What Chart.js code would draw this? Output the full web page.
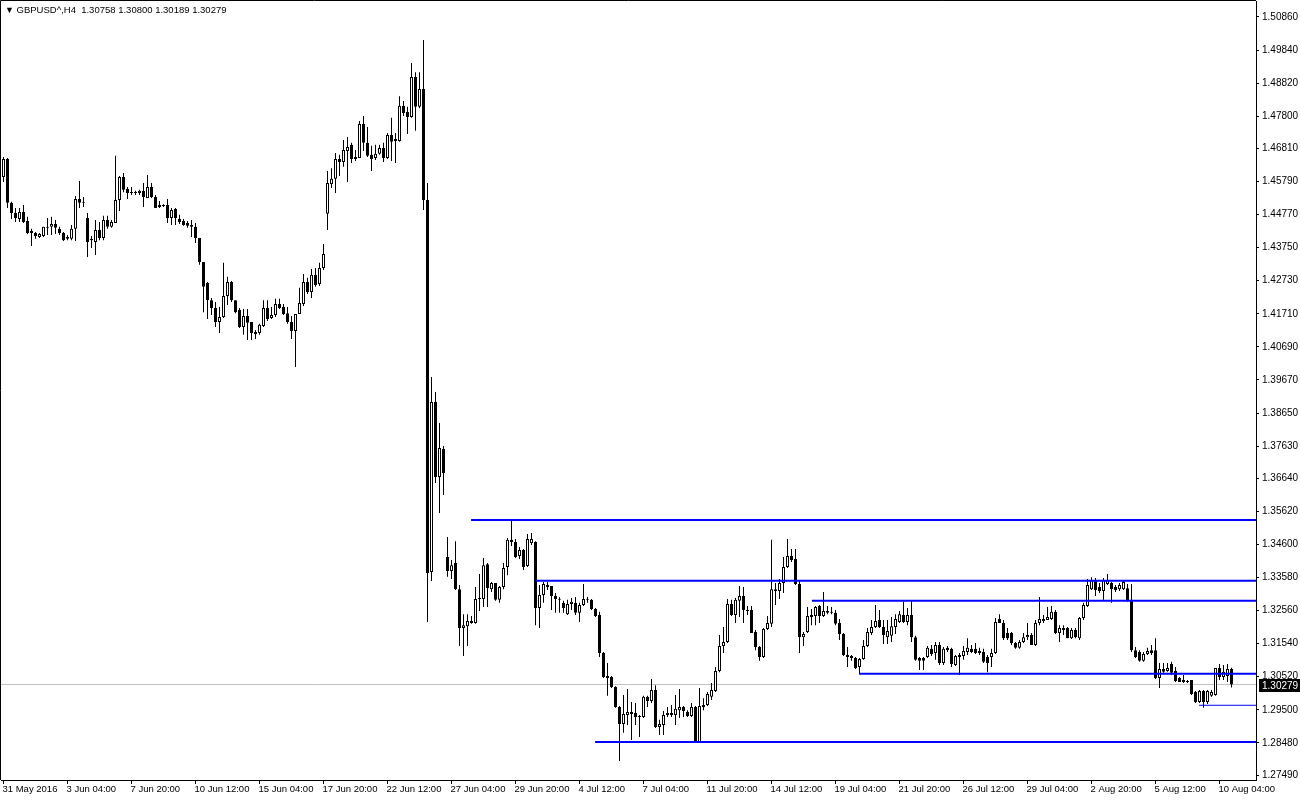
<!DOCTYPE html>
<html>
<head>
<meta charset="utf-8">
<title>GBPUSD^,H4</title>
<script src="https://cdn.jsdelivr.net/npm/chart.js@4.4.1/dist/chart.umd.min.js"></script>
<style>
  html, body { margin: 0; padding: 0; background: #fff; }
  #wrap { position: relative; width: 1300px; height: 800px; }
  #chart { display: block; }
  #header { position: absolute; left: 5px; top: 4px; font: 9.5px "Liberation Sans", Arial, sans-serif; color: #000; white-space: pre; }
  #header .tri { font-size: 9px; }
</style>
</head>
<body>
<div id="wrap">
  <canvas id="chart" width="1300" height="800"></canvas>
  <div id="header"></div>
</div>
<script>
// GBPUSD H4 bars, 31 May 2016 12:00 .. 10 Aug 2016 16:00 (one entry per bar)
const opens = [
  1.4593, 1.4648, 1.4513, 1.4482, 1.4463, 1.4485, 1.4457, 1.4426, 1.4420, 1.4408,
  1.4411, 1.4436, 1.4439, 1.4448, 1.4433, 1.4420, 1.4402, 1.4402, 1.4433, 1.4525,
  1.4516, 1.4466, 1.4398, 1.4392, 1.4429, 1.4405, 1.4460, 1.4439, 1.4451, 1.4522,
  1.4593, 1.4556, 1.4546, 1.4543, 1.4543, 1.4550, 1.4528, 1.4562, 1.4531, 1.4506,
  1.4503, 1.4506, 1.4466, 1.4494, 1.4463, 1.4457, 1.4451, 1.4445, 1.4439, 1.4405,
  1.4331, 1.4266, 1.4213, 1.4189, 1.4146, 1.4161, 1.4226, 1.4269, 1.4213, 1.4183,
  1.4130, 1.4164, 1.4146, 1.4115, 1.4112, 1.4133, 1.4189, 1.4158, 1.4167, 1.4201,
  1.4192, 1.4173, 1.4146, 1.4118, 1.4170, 1.4201, 1.4269, 1.4238, 1.4291, 1.4263,
  1.4312, 1.4479, 1.4571, 1.4587, 1.4648, 1.4639, 1.4673, 1.4692, 1.4648, 1.4651,
  1.4756, 1.4698, 1.4661, 1.4651, 1.4664, 1.4682, 1.4651, 1.4722, 1.4704, 1.4704,
  1.4812, 1.4793, 1.4778, 1.4901, 1.4809, 1.4864, 1.4522, 1.3375, 1.3899, 1.3668,
  1.3754, 1.3421, 1.3378, 1.3403, 1.3322, 1.3202, 1.3208, 1.3218, 1.3218, 1.3292,
  1.3292, 1.3399, 1.3322, 1.3341, 1.3289, 1.3329, 1.3390, 1.3474, 1.3467, 1.3424,
  1.3443, 1.3393, 1.3464, 1.3467, 1.3264, 1.3304, 1.3335, 1.3332, 1.3301, 1.3289,
  1.3280, 1.3245, 1.3276, 1.3280, 1.3249, 1.3273, 1.3289, 1.3289, 1.3261, 1.3242,
  1.3125, 1.3054, 1.3051, 1.3020, 1.2959, 1.2906, 1.2934, 1.2943, 1.2940, 1.2931,
  1.2928, 1.2990, 1.2977, 1.3011, 1.2897, 1.2903, 1.2934, 1.2940, 1.2934, 1.2949,
  1.2959, 1.2943, 1.2931, 1.2959, 1.2848, 1.2965, 1.2965, 1.2990, 1.3008, 1.3070,
  1.3147, 1.3159, 1.3276, 1.3242, 1.3286, 1.3301, 1.3258, 1.3258, 1.3190, 1.3144,
  1.3113, 1.3199, 1.3215, 1.3322, 1.3316, 1.3341, 1.3390, 1.3424, 1.3415, 1.3338,
  1.3174, 1.3190, 1.3242, 1.3239, 1.3270, 1.3239, 1.3255, 1.3252, 1.3249, 1.3218,
  1.3184, 1.3119, 1.3116, 1.3110, 1.3082, 1.3107, 1.3147, 1.3187, 1.3205, 1.3227,
  1.3205, 1.3174, 1.3178, 1.3205, 1.3221, 1.3242, 1.3221, 1.3242, 1.3174, 1.3110,
  1.3110, 1.3113, 1.3138, 1.3125, 1.3150, 1.3094, 1.3141, 1.3138, 1.3088, 1.3113,
  1.3116, 1.3128, 1.3138, 1.3138, 1.3131, 1.3128, 1.3113, 1.3113, 1.3125, 1.3230,
  1.3218, 1.3187, 1.3187, 1.3156, 1.3141, 1.3159, 1.3174, 1.3181, 1.3150, 1.3218,
  1.3230, 1.3227, 1.3230, 1.3252, 1.3187, 1.3202, 1.3202, 1.3171, 1.3196, 1.3171,
  1.3233, 1.3270, 1.3322, 1.3350, 1.3329, 1.3316, 1.3338, 1.3341, 1.3329, 1.3322,
  1.3322, 1.3325, 1.3289, 1.3134, 1.3128, 1.3101, 1.3122, 1.3134, 1.3134, 1.3048,
  1.3076, 1.3070, 1.3091, 1.3070, 1.3048, 1.3042, 1.3039, 1.3042, 1.3005, 1.2974,
  1.3008, 1.2974, 1.2993, 1.2996, 1.3079, 1.3051, 1.3054, 1.30758
];
const highs = [
  1.4654, 1.4651, 1.4516, 1.4497, 1.4497, 1.4506, 1.4470, 1.4433, 1.4423, 1.4420,
  1.4439, 1.4466, 1.4470, 1.4460, 1.4439, 1.4423, 1.4414, 1.4445, 1.4534, 1.4580,
  1.4531, 1.4482, 1.4411, 1.4460, 1.4454, 1.4473, 1.4473, 1.4460, 1.4658, 1.4596,
  1.4605, 1.4562, 1.4562, 1.4550, 1.4553, 1.4574, 1.4599, 1.4574, 1.4537, 1.4519,
  1.4509, 1.4525, 1.4497, 1.4497, 1.4476, 1.4463, 1.4457, 1.4460, 1.4451, 1.4405,
  1.4331, 1.4269, 1.4220, 1.4207, 1.4192, 1.4328, 1.4285, 1.4272, 1.4213, 1.4189,
  1.4186, 1.4186, 1.4146, 1.4121, 1.4140, 1.4213, 1.4213, 1.4192, 1.4217, 1.4217,
  1.4201, 1.4192, 1.4164, 1.4170, 1.4251, 1.4294, 1.4282, 1.4309, 1.4312, 1.4328,
  1.4386, 1.4611, 1.4620, 1.4667, 1.4661, 1.4707, 1.4716, 1.4698, 1.4676, 1.4765,
  1.4781, 1.4747, 1.4689, 1.4692, 1.4692, 1.4698, 1.4728, 1.4775, 1.4728, 1.4842,
  1.4827, 1.4809, 1.4944, 1.4916, 1.4916, 1.5015, 1.4574, 1.3976, 1.3930, 1.3834,
  1.3763, 1.3483, 1.3412, 1.3470, 1.3335, 1.3245, 1.3245, 1.3239, 1.3329, 1.3369,
  1.3418, 1.3403, 1.3344, 1.3341, 1.3332, 1.3403, 1.3480, 1.3535, 1.3477, 1.3452,
  1.3446, 1.3492, 1.3495, 1.3470, 1.3335, 1.3344, 1.3344, 1.3332, 1.3310, 1.3298,
  1.3286, 1.3289, 1.3295, 1.3298, 1.3280, 1.3338, 1.3298, 1.3292, 1.3264, 1.3252,
  1.3128, 1.3094, 1.3054, 1.3023, 1.2962, 1.2996, 1.3014, 1.2974, 1.2971, 1.2934,
  1.2993, 1.2993, 1.3045, 1.3026, 1.2919, 1.2946, 1.2959, 1.2965, 1.2996, 1.3014,
  1.2962, 1.2949, 1.2971, 1.2962, 1.3017, 1.2986, 1.3005, 1.3033, 1.3082, 1.3181,
  1.3205, 1.3292, 1.3289, 1.3295, 1.3332, 1.3329, 1.3270, 1.3270, 1.3196, 1.3147,
  1.3202, 1.3239, 1.3474, 1.3341, 1.3353, 1.3421, 1.3477, 1.3446, 1.3446, 1.3350,
  1.3190, 1.3267, 1.3261, 1.3270, 1.3273, 1.3313, 1.3270, 1.3267, 1.3258, 1.3230,
  1.3187, 1.3144, 1.3119, 1.3113, 1.3110, 1.3165, 1.3202, 1.3227, 1.3273, 1.3258,
  1.3227, 1.3227, 1.3236, 1.3245, 1.3255, 1.3283, 1.3264, 1.3286, 1.3178, 1.3113,
  1.3113, 1.3147, 1.3150, 1.3159, 1.3159, 1.3144, 1.3147, 1.3141, 1.3119, 1.3125,
  1.3147, 1.3171, 1.3150, 1.3156, 1.3141, 1.3138, 1.3119, 1.3138, 1.3233, 1.3245,
  1.3227, 1.3202, 1.3190, 1.3159, 1.3165, 1.3187, 1.3218, 1.3187, 1.3227, 1.3298,
  1.3242, 1.3267, 1.3270, 1.3258, 1.3211, 1.3211, 1.3205, 1.3202, 1.3202, 1.3236,
  1.3280, 1.3353, 1.3359, 1.3356, 1.3341, 1.3356, 1.3369, 1.3344, 1.3335, 1.3341,
  1.3347, 1.3338, 1.3338, 1.3144, 1.3134, 1.3128, 1.3141, 1.3150, 1.3171, 1.3094,
  1.3094, 1.3094, 1.3098, 1.3082, 1.3051, 1.3057, 1.3042, 1.3042, 1.3008, 1.3011,
  1.3011, 1.3011, 1.3011, 1.3079, 1.3091, 1.3088, 1.3091, 1.30800
];
const lows = [
  1.4577, 1.4497, 1.4463, 1.4454, 1.4454, 1.4451, 1.4417, 1.4380, 1.4402, 1.4405,
  1.4408, 1.4414, 1.4414, 1.4417, 1.4414, 1.4395, 1.4398, 1.4398, 1.4395, 1.4497,
  1.4500, 1.4346, 1.4374, 1.4352, 1.4398, 1.4398, 1.4433, 1.4436, 1.4451, 1.4488,
  1.4546, 1.4525, 1.4537, 1.4537, 1.4537, 1.4500, 1.4528, 1.4528, 1.4497, 1.4497,
  1.4500, 1.4451, 1.4445, 1.4445, 1.4448, 1.4442, 1.4436, 1.4408, 1.4389, 1.4322,
  1.4176, 1.4155, 1.4167, 1.4130, 1.4112, 1.4158, 1.4198, 1.4207, 1.4173, 1.4127,
  1.4106, 1.4090, 1.4090, 1.4093, 1.4106, 1.4130, 1.4149, 1.4155, 1.4161, 1.4186,
  1.4167, 1.4140, 1.4093, 1.4007, 1.4170, 1.4195, 1.4232, 1.4220, 1.4254, 1.4257,
  1.4306, 1.4429, 1.4559, 1.4543, 1.4596, 1.4624, 1.4577, 1.4636, 1.4642, 1.4651,
  1.4673, 1.4654, 1.4611, 1.4645, 1.4661, 1.4639, 1.4648, 1.4642, 1.4636, 1.4701,
  1.4781, 1.4725, 1.4775, 1.4735, 1.4805, 1.4491, 1.3221, 1.3347, 1.3649, 1.3557,
  1.3612, 1.3360, 1.3353, 1.3319, 1.3147, 1.3116, 1.3147, 1.3215, 1.3215, 1.3255,
  1.3267, 1.3267, 1.3313, 1.3286, 1.3280, 1.3322, 1.3365, 1.3455, 1.3418, 1.3415,
  1.3381, 1.3390, 1.3458, 1.3211, 1.3202, 1.3280, 1.3319, 1.3258, 1.3249, 1.3249,
  1.3249, 1.3242, 1.3258, 1.3242, 1.3221, 1.3270, 1.3280, 1.3258, 1.3236, 1.3113,
  1.3048, 1.2993, 1.3017, 1.2956, 1.2792, 1.2879, 1.2903, 1.2857, 1.2903, 1.2866,
  1.2925, 1.2959, 1.2971, 1.2894, 1.2872, 1.2872, 1.2928, 1.2928, 1.2903, 1.2925,
  1.2928, 1.2928, 1.2928, 1.2848, 1.2848, 1.2949, 1.2962, 1.2980, 1.3005, 1.3066,
  1.3125, 1.3156, 1.3239, 1.3218, 1.3236, 1.3218, 1.3242, 1.3187, 1.3134, 1.3101,
  1.3110, 1.3196, 1.3205, 1.3273, 1.3292, 1.3310, 1.3387, 1.3406, 1.3335, 1.3125,
  1.3147, 1.3187, 1.3211, 1.3211, 1.3218, 1.3236, 1.3245, 1.3245, 1.3211, 1.3165,
  1.3116, 1.3082, 1.3101, 1.3076, 1.3060, 1.3104, 1.3144, 1.3181, 1.3202, 1.3202,
  1.3153, 1.3153, 1.3159, 1.3184, 1.3218, 1.3218, 1.3211, 1.3159, 1.3101, 1.3073,
  1.3073, 1.3110, 1.3116, 1.3104, 1.3088, 1.3088, 1.3128, 1.3082, 1.3085, 1.3057,
  1.3104, 1.3119, 1.3125, 1.3122, 1.3119, 1.3094, 1.3066, 1.3082, 1.3122, 1.3218,
  1.3165, 1.3165, 1.3150, 1.3138, 1.3138, 1.3156, 1.3165, 1.3150, 1.3147, 1.3211,
  1.3218, 1.3227, 1.3227, 1.3184, 1.3159, 1.3181, 1.3171, 1.3168, 1.3171, 1.3165,
  1.3227, 1.3267, 1.3319, 1.3301, 1.3310, 1.3289, 1.3335, 1.3280, 1.3313, 1.3316,
  1.3319, 1.3283, 1.3128, 1.3110, 1.3098, 1.3098, 1.3119, 1.3119, 1.3045, 1.3017,
  1.3064, 1.3067, 1.3057, 1.3036, 1.3036, 1.3033, 1.3033, 1.2996, 1.2971, 1.2971,
  1.2956, 1.2968, 1.2990, 1.2993, 1.3042, 1.3042, 1.3036, 1.30189
];
const closes = [
  1.4648, 1.4513, 1.4482, 1.4466, 1.4485, 1.4454, 1.4420, 1.4420, 1.4411, 1.4417,
  1.4439, 1.4439, 1.4448, 1.4436, 1.4420, 1.4398, 1.4408, 1.4433, 1.4525, 1.4513,
  1.4513, 1.4392, 1.4402, 1.4429, 1.4405, 1.4460, 1.4439, 1.4454, 1.4522, 1.4593,
  1.4553, 1.4543, 1.4543, 1.4546, 1.4550, 1.4531, 1.4562, 1.4531, 1.4497, 1.4500,
  1.4506, 1.4466, 1.4491, 1.4466, 1.4454, 1.4445, 1.4442, 1.4439, 1.4405, 1.4331,
  1.4254, 1.4213, 1.4189, 1.4146, 1.4161, 1.4226, 1.4269, 1.4213, 1.4176, 1.4130,
  1.4164, 1.4143, 1.4112, 1.4109, 1.4137, 1.4189, 1.4155, 1.4167, 1.4201, 1.4189,
  1.4170, 1.4146, 1.4118, 1.4170, 1.4204, 1.4269, 1.4238, 1.4291, 1.4260, 1.4312,
  1.4355, 1.4574, 1.4587, 1.4648, 1.4639, 1.4676, 1.4685, 1.4648, 1.4654, 1.4756,
  1.4698, 1.4658, 1.4648, 1.4664, 1.4682, 1.4651, 1.4722, 1.4701, 1.4710, 1.4812,
  1.4790, 1.4778, 1.4901, 1.4809, 1.4864, 1.4522, 1.3372, 1.3899, 1.3668, 1.3757,
  1.3680, 1.3378, 1.3396, 1.3322, 1.3202, 1.3211, 1.3224, 1.3224, 1.3292, 1.3295,
  1.3396, 1.3325, 1.3341, 1.3289, 1.3329, 1.3387, 1.3474, 1.3467, 1.3421, 1.3443,
  1.3390, 1.3477, 1.3477, 1.3264, 1.3304, 1.3338, 1.3329, 1.3301, 1.3292, 1.3292,
  1.3264, 1.3276, 1.3283, 1.3249, 1.3273, 1.3292, 1.3292, 1.3261, 1.3239, 1.3125,
  1.3051, 1.3048, 1.3020, 1.2959, 1.2906, 1.2937, 1.2943, 1.2937, 1.2928, 1.2928,
  1.2990, 1.2977, 1.3011, 1.2897, 1.2906, 1.2934, 1.2940, 1.2934, 1.2953, 1.2959,
  1.2946, 1.2931, 1.2959, 1.2848, 1.2962, 1.2959, 1.2999, 1.3011, 1.3070, 1.3147,
  1.3159, 1.3276, 1.3242, 1.3289, 1.3301, 1.3258, 1.3255, 1.3187, 1.3144, 1.3113,
  1.3199, 1.3218, 1.3322, 1.3316, 1.3341, 1.3390, 1.3424, 1.3412, 1.3338, 1.3174,
  1.3184, 1.3239, 1.3236, 1.3267, 1.3239, 1.3255, 1.3249, 1.3249, 1.3215, 1.3184,
  1.3119, 1.3113, 1.3110, 1.3079, 1.3107, 1.3147, 1.3190, 1.3205, 1.3224, 1.3205,
  1.3181, 1.3193, 1.3208, 1.3230, 1.3245, 1.3221, 1.3242, 1.3174, 1.3104, 1.3101,
  1.3101, 1.3141, 1.3122, 1.3150, 1.3094, 1.3138, 1.3134, 1.3091, 1.3116, 1.3119,
  1.3131, 1.3141, 1.3128, 1.3125, 1.3125, 1.3098, 1.3094, 1.3125, 1.3221, 1.3218,
  1.3171, 1.3171, 1.3156, 1.3141, 1.3159, 1.3174, 1.3181, 1.3150, 1.3218, 1.3230,
  1.3224, 1.3236, 1.3252, 1.3187, 1.3202, 1.3196, 1.3171, 1.3196, 1.3174, 1.3233,
  1.3273, 1.3335, 1.3350, 1.3319, 1.3316, 1.3350, 1.3350, 1.3322, 1.3319, 1.3335,
  1.3344, 1.3286, 1.3134, 1.3113, 1.3101, 1.3122, 1.3131, 1.3125, 1.3048, 1.3076,
  1.3067, 1.3079, 1.3064, 1.3039, 1.3036, 1.3036, 1.3036, 1.2999, 1.2974, 1.3008,
  1.2974, 1.3008, 1.3005, 1.3079, 1.3051, 1.3067, 1.3076, 1.30279
];

// time axis: bar index of each label and its text
const dateTicks = [0, 16, 32, 48, 64, 80, 96, 112, 128, 144, 160, 176, 192, 208, 224, 240, 256, 272, 288, 304];
const dateLabels = [
  '31 May 2016', '3 Jun 04:00', '7 Jun 20:00', '10 Jun 12:00', '15 Jun 04:00',
  '17 Jun 20:00', '22 Jun 12:00', '27 Jun 04:00', '29 Jun 20:00', '4 Jul 12:00',
  '7 Jul 04:00', '11 Jul 20:00', '14 Jul 12:00', '19 Jul 04:00', '21 Jul 20:00',
  '26 Jul 12:00', '29 Jul 04:00', '2 Aug 20:00', '5 Aug 12:00', '10 Aug 04:00'
];
const priceTicks = [
  1.50860, 1.49840, 1.48820, 1.47800, 1.46810, 1.45790, 1.44770, 1.43750,
  1.42730, 1.41710, 1.40690, 1.39670, 1.38650, 1.37630, 1.36640, 1.35620,
  1.34600, 1.33580, 1.32560, 1.31540, 1.30520, 1.29500, 1.28480, 1.27490
];

// horizontal levels: price and the bar they start from
const levelPrices = [1.3535, 1.3348, 1.3286, 1.3061, 1.2851];
const levelFrom = [116.9, 133.1, 202.1, 213.9, 147.9];
const markPrice = 1.2964;
const markFrom = 298.9;

const X_MIN = -0.625, X_MAX = 313.125;
const FONT = '"Liberation Sans", Arial, sans-serif';
const last = closes.length - 1;
const bid = closes[last];

document.getElementById('header').innerHTML =
  '<span class="tri">\u25BC</span> GBPUSD^,H4  ' +
  [opens[last], highs[last], lows[last], closes[last]].map(v => v.toFixed(5)).join(' ');

const bodies = opens.map((o, i) => ({ x: i, y: [o, closes[i]] }));
const wicks = opens.map((o, i) => ({ x: i, y: [lows[i], highs[i]] }));

const levelSets = levelPrices.map((p, k) => ({
  type: 'line',
  data: [{ x: levelFrom[k], y: p }, { x: X_MAX, y: p }],
  borderColor: '#0000ff',
  borderWidth: 2,
  pointRadius: 0,
  order: 0
}));

// bid price box on the price scale
const bidBox = {
  id: 'bidBox',
  afterDraw(chart) {
    const { ctx, scales: { y } } = chart;
    const py = Math.round(y.getPixelForValue(bid));
    ctx.save();
    ctx.fillStyle = '#000';
    ctx.fillRect(y.left + 3, py - 6, y.right - y.left - 3, 13);
    ctx.fillStyle = '#fff';
    ctx.font = '10px ' + FONT;
    ctx.textBaseline = 'middle';
    ctx.fillText(bid.toFixed(5), y.left + 6, py + 1);
    ctx.restore();
  }
};

// thin frame on the left and top of the plot
const frame = {
  id: 'frame',
  afterDraw(chart) {
    const { ctx, chartArea: a } = chart;
    ctx.save();
    ctx.strokeStyle = '#000';
    ctx.lineWidth = 1;
    ctx.beginPath();
    ctx.moveTo(a.left - 0.5, a.bottom);
    ctx.lineTo(a.left - 0.5, a.top - 0.5);
    ctx.lineTo(a.right, a.top - 0.5);
    ctx.stroke();
    ctx.restore();
  }
};

Chart.defaults.font.family = FONT;
Chart.defaults.font.size = 9.5;
Chart.defaults.color = '#000';

new Chart(document.getElementById('chart'), {
  type: 'bar',
  data: {
    datasets: [
      {
        type: 'line',
        data: [{ x: X_MIN, y: bid }, { x: X_MAX, y: bid }],
        borderColor: '#c0c0c0',
        borderWidth: 1,
        pointRadius: 0,
        order: 5
      },
      {
        data: wicks,
        backgroundColor: '#000',
        borderWidth: 0,
        barThickness: 1,
        grouped: false,
        inflateAmount: 0,
        order: 4
      },
      {
        data: bodies,
        backgroundColor: bodies.map(b => b.y[1] > b.y[0] ? '#fff' : '#000'),
        borderColor: '#000',
        borderWidth: 1,
        borderSkipped: false,
        barThickness: 3,
        minBarLength: 1,
        grouped: false,
        inflateAmount: 0,
        order: 3
      },
      ...levelSets,
      {
        type: 'line',
        data: [{ x: markFrom, y: markPrice }, { x: X_MAX, y: markPrice }],
        borderColor: '#0000ff',
        borderWidth: 1,
        pointRadius: 0,
        order: 0
      }
    ]
  },
  options: {
    responsive: false,
    devicePixelRatio: 1,
    animation: false,
    events: [],
    layout: { padding: { top: 1, left: 1, right: 0, bottom: 0 } },
    plugins: { legend: { display: false }, tooltip: { enabled: false } },
    scales: {
      x: {
        type: 'linear',
        min: X_MIN,
        max: X_MAX,
        offset: false,
        bounds: 'data',
        grid: { offset: false, drawOnChartArea: false, drawTicks: true, tickLength: 4, color: '#000' },
        border: { display: true, color: '#000' },
        afterBuildTicks: s => { s.ticks = dateTicks.map(v => ({ value: v })); },
        afterFit: s => { s.height = 20; s.paddingLeft = 0; },
        ticks: {
          autoSkip: false,
          maxRotation: 0,
          align: 'start',
          padding: 0,
          labelOffset: -1,
          callback: (v, i) => dateLabels[i]
        }
      },
      y: {
        position: 'right',
        min: 1.27336,
        max: 1.51353,
        bounds: 'data',
        grid: { drawOnChartArea: false, drawTicks: true, tickLength: 3, color: '#000' },
        border: { display: true, color: '#000' },
        afterBuildTicks: s => { s.ticks = priceTicks.map(v => ({ value: v })); },
        afterFit: s => { s.width = 44; s.paddingTop = 0; s.paddingBottom = 0; },
        ticks: {
          autoSkip: false,
          padding: 3,
          font: { size: 10 },
          callback: v => v.toFixed(5)
        }
      }
    }
  },
  plugins: [bidBox, frame]
});
</script>
</body>
</html>
